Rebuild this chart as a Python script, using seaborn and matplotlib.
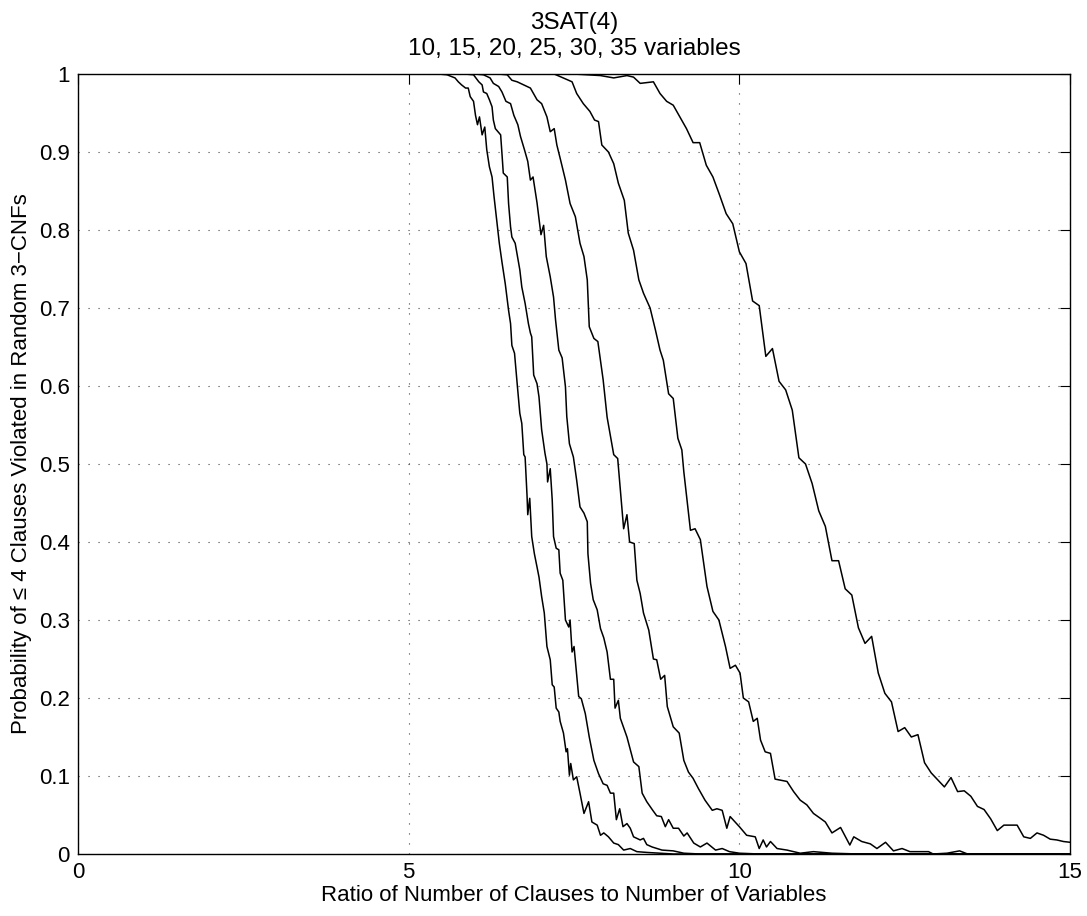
import numpy as np
import pandas as pd
import matplotlib
matplotlib.use("Agg")
import matplotlib.pyplot as plt
import seaborn as sns

# ratio of clauses to variables (x) and probability (y), one curve per problem size
n_vars = [35, 30, 25, 20, 15, 10]

x35 = [0, 5.45, 5.58, 5.70, 5.75, 5.80, 5.86, 5.90, 5.93, 5.98,
       6.01, 6.04, 6.07, 6.11, 6.15, 6.18, 6.22, 6.26, 6.29, 6.33,
       6.37, 6.41, 6.46, 6.51, 6.54, 6.56, 6.60, 6.64, 6.68, 6.71,
       6.74, 6.76, 6.79, 6.80, 6.83, 6.86, 6.90, 6.94, 6.97, 7.01,
       7.05, 7.09, 7.14, 7.17, 7.20, 7.23, 7.27, 7.29, 7.34, 7.38,
       7.40, 7.43, 7.45, 7.49, 7.54, 7.59, 7.65, 7.72, 7.77, 7.85,
       7.90, 7.95, 8.02, 8.10, 8.17, 8.25, 8.35, 8.45, 8.6, 8.8,
       9.0, 15]
y35 = [1, 1, 0.999, 0.995, 0.99, 0.986, 0.982, 0.982, 0.971, 0.965,
       0.947, 0.935, 0.945, 0.922, 0.932, 0.903, 0.881, 0.868, 0.843, 0.813,
       0.783, 0.759, 0.731, 0.697, 0.68, 0.652, 0.642, 0.603, 0.565, 0.552,
       0.512, 0.509, 0.458, 0.435, 0.456, 0.407, 0.385, 0.368, 0.355, 0.33,
       0.309, 0.266, 0.249, 0.217, 0.214, 0.187, 0.182, 0.17, 0.155, 0.131,
       0.135, 0.101, 0.116, 0.095, 0.099, 0.078, 0.052, 0.067, 0.041, 0.037,
       0.024, 0.027, 0.022, 0.014, 0.012, 0.005, 0.007, 0.003, 0.002, 0.001,
       0, 0]

x30 = [0, 5.85, 5.98, 6.06, 6.11, 6.13, 6.18, 6.22, 6.26, 6.28,
       6.31, 6.39, 6.41, 6.43, 6.49, 6.51, 6.54, 6.56, 6.61, 6.68,
       6.71, 6.76, 6.81, 6.84, 6.86, 6.89, 6.94, 6.97, 7.01, 7.06,
       7.09, 7.10, 7.14, 7.17, 7.19, 7.23, 7.27, 7.29, 7.33, 7.37,
       7.42, 7.44, 7.47, 7.50, 7.57, 7.61, 7.67, 7.73, 7.80, 7.87,
       7.94, 8.00, 8.05, 8.10, 8.14, 8.19, 8.24, 8.30, 8.35, 8.40,
       8.50, 8.55, 8.60, 8.68, 8.83, 9.00, 9.16, 9.4, 15]
y30 = [1, 1, 0.999, 0.99, 0.986, 0.977, 0.975, 0.967, 0.958, 0.941,
       0.93, 0.922, 0.898, 0.873, 0.868, 0.834, 0.804, 0.791, 0.783, 0.749,
       0.727, 0.706, 0.68, 0.668, 0.663, 0.614, 0.603, 0.586, 0.544, 0.514,
       0.50, 0.477, 0.494, 0.454, 0.407, 0.392, 0.39, 0.36, 0.351, 0.30,
       0.291, 0.30, 0.259, 0.266, 0.202, 0.199, 0.18, 0.15, 0.12, 0.103,
       0.09, 0.088, 0.078, 0.078, 0.044, 0.058, 0.035, 0.039, 0.033, 0.022,
       0.018, 0.02, 0.012, 0.009, 0.005, 0.004, 0.001, 0, 0]

x25 = [0, 6.0, 6.13, 6.23, 6.28, 6.36, 6.41, 6.47, 6.54, 6.59,
       6.65, 6.69, 6.75, 6.80, 6.84, 6.88, 6.94, 7.00, 7.04, 7.08,
       7.14, 7.19, 7.22, 7.27, 7.32, 7.37, 7.39, 7.43, 7.49, 7.54,
       7.59, 7.65, 7.70, 7.71, 7.75, 7.79, 7.85, 7.90, 7.95, 8.00,
       8.05, 8.10, 8.12, 8.17, 8.20, 8.30, 8.40, 8.48, 8.53, 8.60,
       8.69, 8.75, 8.82, 8.88, 8.93, 9.00, 9.08, 9.16, 9.21, 9.31,
       9.41, 9.51, 9.64, 9.74, 9.85, 10.0, 10.3, 15]
y25 = [1, 1, 0.999, 0.995, 0.988, 0.984, 0.977, 0.965, 0.962, 0.947,
       0.935, 0.92, 0.903, 0.888, 0.864, 0.868, 0.835, 0.794, 0.806, 0.766,
       0.74, 0.714, 0.685, 0.646, 0.636, 0.599, 0.561, 0.526, 0.509, 0.479,
       0.445, 0.437, 0.426, 0.385, 0.347, 0.326, 0.313, 0.289, 0.277, 0.259,
       0.224, 0.224, 0.187, 0.197, 0.174, 0.15, 0.118, 0.112, 0.078, 0.067,
       0.056, 0.049, 0.048, 0.035, 0.044, 0.033, 0.033, 0.023, 0.027, 0.014,
       0.009, 0.014, 0.005, 0.007, 0.003, 0.001, 0, 0]

x20 = [0, 6.35, 6.49, 6.56, 6.64, 6.74, 6.84, 6.94, 7.01, 7.09,
       7.14, 7.20, 7.24, 7.29, 7.37, 7.44, 7.52, 7.59, 7.65, 7.70,
       7.73, 7.80, 7.86, 7.94, 8.00, 8.10, 8.16, 8.25, 8.30, 8.34,
       8.41, 8.45, 8.50, 8.55, 8.63, 8.70, 8.75, 8.81, 8.87, 8.91,
       9.00, 9.09, 9.16, 9.23, 9.30, 9.38, 9.48, 9.59, 9.66, 9.74,
       9.81, 9.86, 10.0, 10.11, 10.24, 10.30, 10.36, 10.41, 10.47, 10.57,
       10.72, 10.92, 11.12, 11.4, 11.8, 15]
y20 = [1, 1, 0.999, 0.992, 0.99, 0.986, 0.982, 0.967, 0.962, 0.945,
       0.926, 0.93, 0.909, 0.892, 0.864, 0.834, 0.817, 0.783, 0.766, 0.736,
       0.676, 0.661, 0.657, 0.608, 0.56, 0.512, 0.507, 0.417, 0.435, 0.40,
       0.398, 0.351, 0.334, 0.309, 0.287, 0.25, 0.249, 0.224, 0.229, 0.189,
       0.163, 0.155, 0.12, 0.105, 0.097, 0.084, 0.069, 0.056, 0.058, 0.056,
       0.033, 0.048, 0.035, 0.024, 0.022, 0.007, 0.018, 0.009, 0.016, 0.007,
       0.005, 0.001, 0.003, 0.001, 0, 0]

x15 = [0, 7.2, 7.39, 7.47, 7.54, 7.64, 7.74, 7.81, 7.87, 7.92,
       8.02, 8.10, 8.17, 8.26, 8.32, 8.40, 8.48, 8.55, 8.65, 8.73,
       8.80, 8.85, 8.93, 9.00, 9.07, 9.13, 9.16, 9.26, 9.33, 9.41,
       9.51, 9.60, 9.69, 9.79, 9.86, 9.94, 10.01, 10.06, 10.14, 10.21,
       10.27, 10.32, 10.39, 10.47, 10.54, 10.72, 10.82, 10.92, 11.02, 11.12,
       11.22, 11.30, 11.40, 11.53, 11.67, 11.73, 11.85, 11.98, 12.08, 12.21,
       12.33, 12.46, 12.58, 12.86, 12.93, 13.14, 13.33, 13.45, 15]
y15 = [1, 1, 0.993, 0.99, 0.975, 0.962, 0.952, 0.941, 0.939, 0.909,
       0.90, 0.885, 0.86, 0.838, 0.796, 0.774, 0.736, 0.719, 0.70, 0.672,
       0.646, 0.633, 0.59, 0.584, 0.533, 0.518, 0.49, 0.415, 0.417, 0.403,
       0.343, 0.311, 0.30, 0.266, 0.238, 0.242, 0.232, 0.20, 0.195, 0.17,
       0.174, 0.146, 0.131, 0.129, 0.096, 0.093, 0.08, 0.069, 0.063, 0.052,
       0.046, 0.041, 0.027, 0.034, 0.0115, 0.022, 0.016, 0.013, 0.007, 0.015,
       0.004, 0.007, 0.003, 0.003, 0, 0.001, 0.004, 0, 0]

x10 = [0, 7.5, 7.9, 8.1, 8.3, 8.4, 8.5, 8.6, 8.7, 8.8,
       8.9, 9.0, 9.1, 9.2, 9.3, 9.4, 9.5, 9.6, 9.7, 9.8,
       9.9, 10.0, 10.1, 10.2, 10.3, 10.4, 10.5, 10.6, 10.7, 10.8,
       10.9, 11.0, 11.1, 11.2, 11.3, 11.4, 11.5, 11.6, 11.7, 11.8,
       11.9, 12.0, 12.1, 12.2, 12.3, 12.4, 12.5, 12.6, 12.7, 12.8,
       12.9, 13.0, 13.1, 13.2, 13.3, 13.4, 13.5, 13.6, 13.7, 13.8,
       13.9, 14.0, 14.1, 14.2, 14.3, 14.4, 14.5, 14.6, 14.7, 14.8,
       14.9, 15.0]
y10 = [1, 1, 0.998, 0.995, 0.998, 0.996, 0.988, 0.989, 0.99, 0.975,
       0.965, 0.96, 0.945, 0.93, 0.912, 0.912, 0.883, 0.868, 0.845, 0.821,
       0.808, 0.772, 0.757, 0.709, 0.703, 0.638, 0.648, 0.606, 0.595, 0.569,
       0.508, 0.50, 0.475, 0.44, 0.42, 0.376, 0.376, 0.34, 0.332, 0.29,
       0.27, 0.279, 0.232, 0.206, 0.195, 0.157, 0.162, 0.15, 0.153, 0.117,
       0.104, 0.095, 0.086, 0.098, 0.08, 0.081, 0.074, 0.061, 0.057, 0.045,
       0.03, 0.037, 0.037, 0.037, 0.022, 0.02, 0.027, 0.024, 0.019, 0.018,
       0.016, 0.015]

xs = [x35, x30, x25, x20, x15, x10]
ys = [y35, y30, y25, y20, y15, y10]

frames = []
for n, xv, yv in zip(n_vars, xs, ys):
    frames.append(pd.DataFrame({"ratio": xv, "prob": yv, "n": n}))
df = pd.concat(frames, ignore_index=True)

sns.set_style("white")
plt.rcParams['font.family'] = ['Liberation Sans', 'DejaVu Sans']
plt.rcParams['text.color'] = 'black'
plt.rcParams['axes.labelcolor'] = 'black'

fig, ax = plt.subplots(figsize=(10.87, 9.16), dpi=100)
fig.subplots_adjust(left=0.0718, right=0.9844, bottom=0.0677, top=0.9192)

sns.lineplot(data=df, x="ratio", y="prob", hue="n", units="n", estimator=None,
             palette=["black"] * len(n_vars), linewidth=1.1, legend=False,
             sort=False, ax=ax)

ax.set_xlim(0, 15)
ax.set_ylim(0, 1)
ax.set_xticks([0, 5, 10, 15])
ax.set_xticklabels(["0", "5", "10", "15"])
yt = [0, 0.1, 0.2, 0.3, 0.4, 0.5, 0.6, 0.7, 0.8, 0.9, 1]
ax.set_yticks(yt)
ax.set_yticklabels(["0", "0.1", "0.2", "0.3", "0.4", "0.5", "0.6", "0.7", "0.8", "0.9", "1"])
ax.tick_params(direction="in", length=7, width=0.8, top=True, right=True,
               labelsize=16, colors="black", pad=6)
ax.tick_params(axis="x", pad=6)
ax.grid(True, color="#444444", linestyle=(0, (1, 8)), linewidth=0.8)
ax.set_axisbelow(True)
for s in ax.spines.values():
    s.set_color("black")
    s.set_linewidth(1.0)

ax.set_xlabel("Ratio of Number of Clauses to Number of Variables", fontsize=16, labelpad=1)
ax.set_ylabel("Probability of \u2264 4 Clauses Violated in Random 3\u2212CNFs", fontsize=16, labelpad=5)
ax.set_title("3SAT(4)\n10, 15, 20, 25, 30, 35 variables", fontsize=17.5, pad=14, linespacing=1.2)

fig.savefig("out.png", dpi=100, facecolor="white")
